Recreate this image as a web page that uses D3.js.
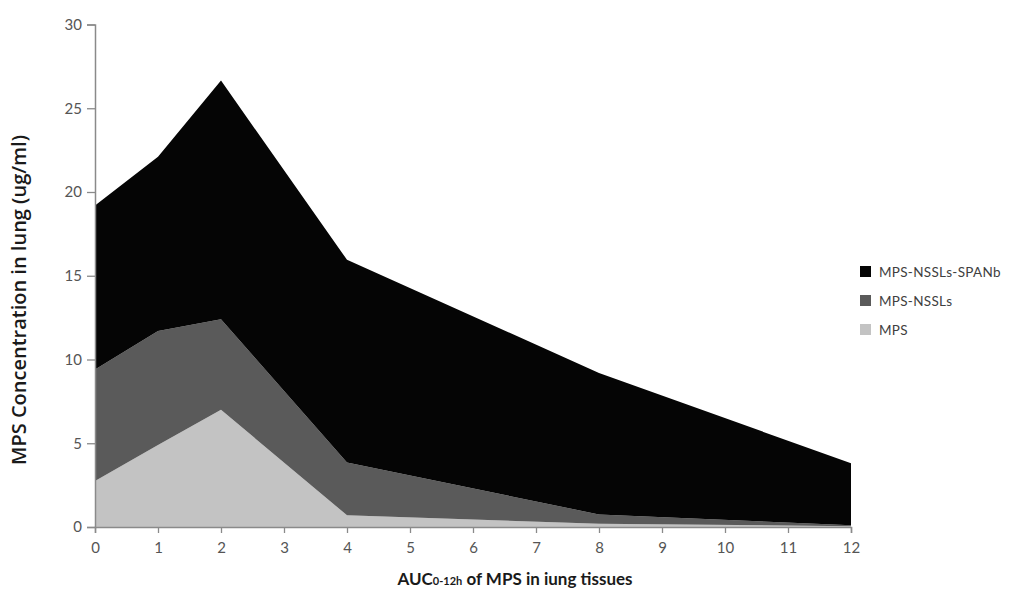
<!DOCTYPE html>
<html>
<head>
<meta charset="utf-8">
<script src="https://cdn.jsdelivr.net/npm/d3@7"></script>
<style>
  body { margin: 0; background: #fff; }
  svg { display: block; font-family: Lato, "Open Sans", sans-serif; }
</style>
</head>
<body>
<div id="chart"></div>
<script>
// sampling times (h) and concentration of each formulation (ug/ml)
const hours = [0, 1, 2, 4, 8, 12];
const mps = [2.75, 4.9, 7.0, 0.7, 0.2, 0.05];
const mpsNssls = [6.65, 6.8, 5.4, 3.15, 0.55, 0.05];
const mpsNsslsSpanb = [9.8, 10.4, 14.25, 12.1, 8.45, 3.7];

const seriesNames = ["MPS", "MPS-NSSLs", "MPS-NSSLs-SPANb"];
const xTicks = d3.range(0, 13);
const yTicks = [0, 5, 10, 15, 20, 25, 30];

const colours = {
    "MPS": "#c3c3c3",
    "MPS-NSSLs": "#5a5a5a",
    "MPS-NSSLs-SPANb": "#050505"
};

var margin = {top: 24.5, right: 172, bottom: 67, left: 95},
    width = 1023 - margin.left - margin.right,
    height = 594 - margin.top - margin.bottom;

var svg = d3.select("#chart")
    .append("svg")
    .attr("width", 1023)
    .attr("height", 594);

var g = svg.append("g")
    .attr("transform", "translate(" + margin.left + "," + margin.top + ")");

// build rows for the stack
var rows = hours.map(function (h, i) {
    return {hour: h, "MPS": mps[i], "MPS-NSSLs": mpsNssls[i], "MPS-NSSLs-SPANb": mpsNsslsSpanb[i]};
});

var stacked = d3.stack().keys(seriesNames)(rows);

var x = d3.scaleLinear().domain([0, 12]).range([0, width]);
var y = d3.scaleLinear().domain([0, 30]).range([height, 0]);

var area = d3.area()
    .x(function (d) { return x(d.data.hour); })
    .y0(function (d) { return y(d[0]); })
    .y1(function (d) { return y(d[1]); });

g.selectAll("path.layer")
    .data(stacked)
    .enter()
    .append("path")
    .attr("class", "layer")
    .attr("d", area)
    .style("fill", function (d) { return colours[d.key]; });

// axes
var yAxis = g.append("g")
    .call(d3.axisLeft(y).tickValues(yTicks).tickSize(8).tickPadding(5));
var xAxis = g.append("g")
    .attr("transform", "translate(0," + height + ")")
    .call(d3.axisBottom(x).tickValues(xTicks).tickSize(6).tickPadding(9));

[xAxis, yAxis].forEach(function (ax) {
    ax.select(".domain").style("stroke", "#8a8a8a").style("stroke-width", 1.5);
    ax.selectAll(".tick line").style("stroke", "#8a8a8a").style("stroke-width", 1.3);
    ax.selectAll(".tick text")
        .style("fill", "#555")
        .style("font-size", "15px")
        .style("font-family", "Lato, 'Open Sans', sans-serif");
});

// y axis title
svg.append("text")
    .attr("transform", "translate(19,300) rotate(-90)")
    .attr("text-anchor", "middle")
    .attr("dy", "0.35em")
    .style("font-family", "'Open Sans', sans-serif")
    .style("font-size", "20px")
    .style("font-weight", "600")
    .style("fill", "#1a1a1a")
    .text("MPS Concentration in lung (ug/ml)");

// x axis title with subscript
var xTitle = svg.append("text")
    .attr("x", 515)
    .attr("y", 585)
    .attr("text-anchor", "middle")
    .style("font-size", "17px")
    .style("font-weight", "bold")
    .style("fill", "#1a1a1a");
xTitle.append("tspan").text("AUC");
xTitle.append("tspan").style("font-size", "11px").text("0-12h");
xTitle.append("tspan").text(" of MPS in iung tissues");

// legend, top series first
var legend = svg.append("g")
    .attr("transform", "translate(860,266)");

var legendItem = legend.selectAll("g")
    .data(seriesNames.slice().reverse())
    .enter()
    .append("g")
    .attr("transform", function (d, i) { return "translate(0," + i * 29 + ")"; });

legendItem.append("rect")
    .attr("width", 11)
    .attr("height", 11)
    .style("fill", function (d) { return colours[d]; });

legendItem.append("text")
    .attr("x", 19)
    .attr("y", 6)
    .attr("dy", "0.35em")
    .style("font-size", "13.5px")
    .style("letter-spacing", "0.3px")
    .style("fill", "#404040")
    .text(function (d) { return d; });
</script>
</body>
</html>
